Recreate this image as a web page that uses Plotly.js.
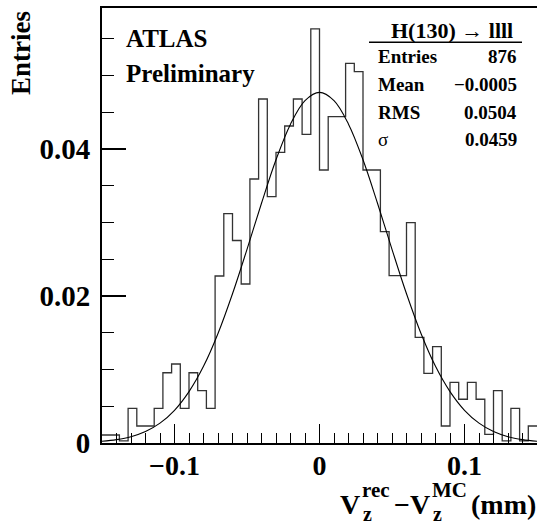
<!DOCTYPE html>
<html>
<head>
<meta charset="utf-8">
<script src="https://cdn.plot.ly/plotly-3.0.1.min.js"></script>
<style>html,body{margin:0;padding:0;background:#fff}#chart{width:537px;height:525px}</style>
</head>
<body>
<div id="chart"></div>
<script>
// ---- data ----
const xMin = -0.15;
const binWidth = 0.006;
const binValues = [
  0.00109, 0.00109, 0.0003, 0.00472, 0.00231, 0.00231, 0.00472, 0.00956, 0.01075, 0.00472,
  0.00956, 0.00712, 0.00472, 0.02272, 0.03122, 0.02755, 0.02163, 0.03592, 0.0468, 0.03351,
  0.03955, 0.04313, 0.0468, 0.042, 0.05633, 0.03714, 0.0444, 0.0444, 0.05166, 0.05052,
  0.03714, 0.03714, 0.02875, 0.02276, 0.02276, 0.02997, 0.01438, 0.00948, 0.0131, 0.00231,
  0.00826, 0.00595, 0.00826, 0.00595, 0.00118, 0.00712, 0.0003, 0.00472, 0.0003, 0.00231
];
// fitted curve, read at points along x
const fitX = [-0.15,-0.14,-0.13,-0.12,-0.11,-0.10,-0.09,-0.08,-0.07,-0.06,-0.05,-0.04,-0.03,-0.02,-0.01,0,
              0.01,0.02,0.03,0.04,0.05,0.06,0.07,0.08,0.09,0.10,0.11,0.12,0.13,0.14,0.15];
const fitY = [0.00023,0.00046,0.00086,0.00156,0.0027,0.00445,0.00699,0.01043,0.0149,0.0203,0.02635,0.03262,0.03853,0.04338,0.04658,0.0477,
              0.04658,0.04338,0.03853,0.03262,0.02635,0.0203,0.0149,0.01043,0.00699,0.00445,0.0027,0.00156,0.00086,0.00046,0.00023];
const xTickVals = [-0.1, 0, 0.1];
const xTickText = ['\u22120.1', '0', '0.1'];
const yTickVals = [0, 0.02, 0.04];
const yTickText = ['0', '0.02', '0.04'];
const statsTitle = 'H(130) \u2192 llll';
const statsNames = ['Entries', 'Mean', 'RMS', '\u03c3'];
const statsValues = ['876', '\u22120.0005', '0.0504', '0.0459'];

// ---- build step line ----
const stepX = [], stepY = [];
binValues.forEach((v, i) => { stepX.push(xMin + i * binWidth); stepY.push(v); });
stepX.push(xMin + binValues.length * binWidth);
stepY.push(binValues[binValues.length - 1]);

const L = 102, T = 8, PW = 435, PH = 435;
const px = x => (x - L) / PW;
const py = y => (T + PH - y) / PH;
const FONT = 'Liberation Serif, Times New Roman, serif';

const traces = [
  {x: stepX, y: stepY, type: 'scatter', mode: 'lines', line: {shape: 'hv', color: '#333', width: 1.3}, hoverinfo: 'skip'},
  {x: fitX, y: fitY, type: 'scatter', mode: 'lines', line: {shape: 'spline', color: '#000', width: 1.1}, hoverinfo: 'skip'}
];

const ann = [];
function txt(text, x, y, size, xa, weight) {
  ann.push({text: text, x: px(x), y: py(y), xref: 'paper', yref: 'paper', showarrow: false, borderpad: 0,
    xanchor: xa, yanchor: 'middle', font: {family: FONT, size: size, color: '#000', weight: weight || 'bold'}});
}
txt('ATLAS', 125, 39, 25, 'left');
txt('Preliminary', 125, 74, 25, 'left');
txt(statsTitle, 452, 31, 22, 'center');
const rowY = [56, 84, 112, 139];
statsNames.forEach((n, i) => {
  txt(n, 377, rowY[i], 19, 'left', i === 3 ? 'normal' : 'bold');
  txt(statsValues[i], 518, rowY[i], 19, 'right');
});
// y title
ann.push({text: 'Entries', x: px(21), y: py(53), xref: 'paper', yref: 'paper', showarrow: false, textangle: -90, borderpad: 0,
  xanchor: 'center', yanchor: 'middle', font: {family: FONT, size: 27, color: '#000', weight: 'bold'}});
// x title pieces
txt('V', 339, 505, 28, 'left');
txt('rec', 361, 490, 21, 'left');
txt('z', 362, 513.5, 20, 'left');
txt('\u2212V', 393, 505, 28, 'left');
txt('MC', 431, 490, 21, 'left');
txt('z', 432, 513.5, 20, 'left');
txt('(mm)', 470, 505, 28, 'left');

const layout = {
  width: 537, height: 525,
  margin: {l: L, r: 0, t: T, b: 525 - T - PH},
  paper_bgcolor: '#fff', plot_bgcolor: '#fff',
  showlegend: false,
  font: {family: FONT, color: '#000'},
  xaxis: {
    range: [-0.15, 0.15], tickvals: xTickVals, ticktext: xTickText,
    ticks: 'inside', ticklen: 19, tickwidth: 1.3, tickcolor: '#000',
    minor: {dtick: 0.01, tick0: 0, ticks: 'inside', ticklen: 10, tickwidth: 1, tickcolor: '#000'},
    showgrid: false, zeroline: false, showline: true, linecolor: '#000', linewidth: 2, mirror: true,
    tickfont: {family: FONT, size: 28, color: '#000', weight: 'bold'}, ticklabelstandoff: -4
  },
  yaxis: {
    range: [0, PH / 7350], tickvals: yTickVals, ticktext: yTickText,
    ticks: 'inside', ticklen: 24, tickwidth: 1.3, tickcolor: '#000',
    minor: {dtick: 0.005, tick0: 0, ticks: 'inside', ticklen: 12, tickwidth: 1, tickcolor: '#000'},
    showgrid: false, zeroline: false, showline: true, linecolor: '#000', linewidth: 2, mirror: true,
    tickfont: {family: FONT, size: 29, color: '#000', weight: 'bold'}, ticklabelstandoff: 4
  },
  shapes: [
    {type: 'line', xref: 'paper', yref: 'paper', x0: px(369), x1: px(522), y0: py(42.3), y1: py(42.3), line: {color: '#000', width: 1.5}}
  ],
  annotations: ann
};
Plotly.newPlot('chart', traces, layout, {staticPlot: true, displayModeBar: false});
</script>
</body>
</html>
